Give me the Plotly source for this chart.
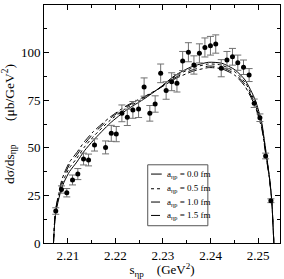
import plotly.graph_objects as go

s_data = [2.20747, 2.20867, 2.20979, 2.21099, 2.21211, 2.21331, 2.21436, 2.21562,
          2.21794, 2.21914, 2.22019, 2.22137, 2.22251, 2.22368, 2.22488, 2.22604,
          2.22724, 2.22836, 2.22952, 2.23067, 2.23183, 2.23294, 2.23414, 2.23535,
          2.23651, 2.23766, 2.23882, 2.23998, 2.24109, 2.24225, 2.24345, 2.24461,
          2.24573, 2.24693, 2.24811, 2.24918, 2.25038, 2.25158, 2.25269]
v_data = [16.8, 28.1, 26.4, 33.1, 36.2, 44.1, 43.6, 51.5,
          50.2, 57.6, 57.2, 68.1, 66.0, 69.9, 70.4, 81.9,
          68.1, 73.0, 89.1, 80.1, 84.7, 83.9, 95.6, 100.2,
          93.5, 99.6, 102.7, 103.6, 104.5, 91.8, 96.1, 97.8,
          94.7, 92.3, 88.2, 73.4, 65.8, 45.7, 22.2]
e_data = [1.7, 1.9, 2.2, 2.6, 2.9, 3.1, 3.1, 3.2,
          3.4, 4.2, 4.0, 4.4, 4.3, 4.4, 4.5, 4.8,
          4.1, 4.3, 4.9, 4.6, 4.7, 4.6, 5.0, 5.0,
          4.8, 5.0, 5.0, 4.9, 4.8, 4.5, 4.5, 4.4,
          4.0, 3.8, 3.4, 2.2, 2.0, 1.5, 1.0]

# ---- model curves ----
s_curve = [2.20699, 2.20720, 2.20747, 2.20804, 2.20867, 2.20931, 2.21036, 2.21189,
           2.21352, 2.21541, 2.21893, 2.22242, 2.22594, 2.22931, 2.23253, 2.23604,
           2.23956, 2.24236, 2.24516, 2.24726, 2.24937, 2.25078, 2.25120, 2.25177,
           2.25246, 2.25288, 2.25316, 2.25331]
a00 = [0, 9.0, 16.0, 22.5, 28.5, 32.5, 37.5, 42.5,
       48.5, 54.0, 63.0, 70.0, 75.5, 81.5, 88.0, 92.6,
       94.9, 94.4, 90.9, 85.6, 75.3, 63.0, 56.0, 46.0,
       33.0, 22.0, 8.0, 0]
a05 = [0, 9.5, 16.8, 23.5, 30.0, 34.3, 39.5, 44.5,
       50.5, 56.0, 64.5, 71.0, 76.0, 81.5, 87.5, 91.8,
       94.0, 93.4, 89.8, 84.3, 74.0, 61.8, 55.0, 45.3,
       32.6, 21.8, 7.9, 0]
a10 = [0, 10.0, 17.5, 24.5, 31.3, 35.8, 41.2, 46.2,
       52.0, 57.5, 65.5, 71.7, 76.4, 81.4, 86.8, 90.8,
       92.9, 92.3, 88.8, 83.2, 72.8, 60.8, 54.0, 44.6,
       32.2, 21.6, 7.8, 0]
a15 = [0, 10.5, 18.0, 25.5, 32.5, 37.0, 42.5, 47.5,
       53.3, 58.6, 66.2, 72.2, 76.7, 81.3, 86.2, 90.0,
       92.1, 91.5, 88.0, 82.2, 71.8, 60.0, 53.3, 44.0,
       31.9, 21.4, 7.7, 0]

curve_names = ["a<sub>ηp</sub> = 0.0 fm", "a<sub>ηp</sub> = 0.5 fm",
               "a<sub>ηp</sub> = 1.0 fm", "a<sub>ηp</sub> = 1.5 fm"]
curve_vals = [a00, a05, a10, a15]
dashes = ["solid", "dot", "dash", "dashdot"]

x_ticks = [2.21, 2.22, 2.23, 2.24, 2.25]
y_ticks = [0, 25, 50, 75, 100, 125]

FONT = "Liberation Serif"
NB = "\u00a0"

fig = go.Figure()
for name, vals, d in zip(curve_names, curve_vals, dashes):
    fig.add_trace(go.Scatter(x=s_curve, y=vals, mode="lines", name=name, showlegend=False,
                             line=dict(color="black", width=1, dash=d, shape="spline", smoothing=0.6)))

fig.add_trace(go.Scatter(x=s_data, y=v_data, mode="markers", showlegend=False,
                         marker=dict(color="black", size=5),
                         error_y=dict(type="data", array=e_data, color="#707070",
                                      thickness=1, width=3.5)))

# hand-drawn legend box (paper coordinates)
LEG_X0, LEG_X1, LEG_Y0, LEG_Y1 = 0.4395, 0.6943, 0.0726, 0.3286
leg_rows = [0.2896, 0.2279, 0.1721, 0.1158]
fig.add_shape(type="rect", xref="paper", yref="paper", x0=LEG_X0, x1=LEG_X1, y0=LEG_Y0, y1=LEG_Y1,
              line=dict(color="#555555", width=1), fillcolor="white", layer="above")
for name, d, yy in zip(curve_names, dashes, leg_rows):
    fig.add_shape(type="line", xref="paper", yref="paper", x0=0.4535, x1=0.4989, y0=yy, y1=yy,
                  line=dict(color="black", width=1, dash=d), layer="above")
    fig.add_annotation(xref="paper", yref="paper", x=0.513, y=yy, xanchor="left", yanchor="middle",
                       text=name, showarrow=False,
                       font=dict(family=FONT, size=9, color="black"))

axis_common = dict(showline=True, linecolor="black", linewidth=1, mirror="ticks",
                   ticks="inside", ticklen=5, tickcolor="black", showgrid=False,
                   zeroline=False, tickfont=dict(family=FONT, size=13, color="black"))

fig.update_xaxes(range=[2.205, 2.2546], tickvals=x_ticks,
                 ticktext=[f"{t:.2f}" for t in x_ticks],
                 minor=dict(dtick=0.005, tick0=2.205, ticks="inside", ticklen=3, tickcolor="black"),
                 title=dict(text="s<sub>ηp</sub>" + NB * 4 + "(GeV<sup>2</sup>)",
                            font=dict(family=FONT, size=13, color="black"), standoff=4),
                 **axis_common)
fig.update_yaxes(range=[0, 125], tickvals=y_ticks,
                 minor=dict(dtick=12.5, tick0=0, ticks="inside", ticklen=3, tickcolor="black"),
                 title=dict(text="dσ/ds<sub>ηp</sub>" + NB * 7 + "(μb/GeV<sup>2</sup>)",
                            font=dict(family=FONT, size=13.5, color="black"), standoff=6),
                 **axis_common)

fig.update_layout(width=284, height=279, margin=dict(l=44, r=4, t=5, b=36),
                  paper_bgcolor="white", plot_bgcolor="white", showlegend=False)

fig.write_html("out.html", config={"displayModeBar": False},
               post_script="document.body.style.margin='0';")
